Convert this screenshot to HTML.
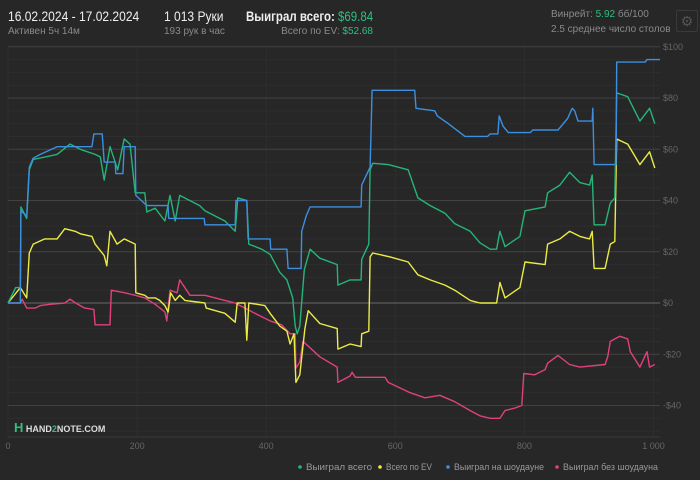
<!DOCTYPE html>
<html><head><meta charset="utf-8">
<style>
body{margin:0;background:#272728;width:700px;height:480px;overflow:hidden;font-family:"Liberation Sans",sans-serif;}
.t{position:absolute;white-space:nowrap;}
.n{transform:scaleX(0.86);transform-origin:left top;}
</style></head>
<body>
<div class="t n" style="left:8px;top:8px;font-size:14px;color:#eee;">16.02.2024 - 17.02.2024</div>
<div class="t" style="left:8px;top:26px;font-size:10px;color:#8a8a8a;">Активен 5ч 14м</div>
<div class="t n" style="left:164px;top:8px;font-size:14px;color:#eee;">1 013 Руки</div>
<div class="t" style="left:164px;top:26px;font-size:10px;color:#8a8a8a;">193 рук в час</div>
<div class="t n" style="left:246px;top:8px;font-size:14px;color:#eee;font-weight:bold;transform:scaleX(0.82);">Выиграл всего: <span style="color:#2fbf80;font-weight:normal">$69.84</span></div>
<div class="t" style="right:327px;top:26px;font-size:10px;color:#8a8a8a;">Всего по EV: <span style="color:#2fbf80">$52.68</span></div>
<div class="t" style="left:551px;top:9px;font-size:10px;color:#8a8a8a;">Винрейт: <span style="color:#2fbf80">5.92</span> бб/100</div>
<div class="t" style="left:551px;top:24px;font-size:10px;color:#8a8a8a;">2.5 среднее число столов</div>
<div class="t" style="left:676px;top:10px;width:20px;height:20px;border:1px solid #3a3a3a;border-radius:2px;color:#555;font-size:14px;text-align:center;line-height:20px;">⚙</div>
<svg id="c" width="700" height="480" style="position:absolute;left:0;top:0"></svg>
<div class="t" style="left:14px;top:420px;font-size:9px;color:#ddd;font-weight:bold;"><span style="color:#2fbf80;font-size:13px;">H</span> HAND<span style="color:#2fbf80">2</span>NOTE.COM</div>
<script>
const xTicks=[0,200,400,600,800,1000];
const xTickLabels=["0","200","400","600","800","1 000"];
const yTicks=[100,80,60,40,20,0,-20,-40];
const yTickLabels=["$100","$80","$60","$40","$20","$0","-$20","-$40"];
const seriesNames=["Выиграл всего","Всего по EV","Выиграл на шоудауне","Выиграл без шоудауна"];
const seriesColors=["#25b579","#ecec45","#3d8fe0","#e0417c"];
const greenH=[0,12,19,20,29,33,39,76,96,112,135,143,149,158,170,180,189,197,212,215,228,243,251,259,266,297,305,336,352,356,370,373,393,406,421,432,441,445,448,452,459,468,483,510,511,530,547,548,559,561,565,589,620,635,654,677,692,716,731,747,757,762,770,793,801,832,836,855,870,886,901,905,908,925,933,940,943,960,979,994,1002];
const greenV=[0,6,6,37.5,33,52,56,58,62,60,58,57,48,61,52,64,62,43,43,35.5,37,32,42,32,42,38,36,32,28,41,40,23,21,19,12,9,2,-9,-12,-9,13,21,17.5,15,7,9,9,17,23,52,54.5,54,52,41,38,35,31,28,23.5,21,21,28,22,26,36,37.5,43,46,51,47,46,50,30.5,30.5,39,41,82,80.5,71,76,70];
const yellowH=[0,19,29,33,39,57,76,88,104,112,130,135,149,153,158,169,180,197,198,212,217,228,235,243,248,252,259,266,274,305,307,336,352,355,367,370,373,398,406,421,432,437,443,446,452,460,465,483,510,511,530,547,548,559,561,565,592,620,635,654,677,692,716,731,747,757,762,770,793,801,832,836,855,870,886,901,905,908,925,933,940,943,960,979,994,1002];
const yellowV=[0,6,2,19.5,23,25,25,29,28,27,26,23,18.5,14.5,28,23,25,23,4,3,2,2,1,-1,-3.5,4,1,3,1,0,-2,-4,-7.5,0,0,-14.5,0,-1,-4,-9,-11,-16,-12,-31,-28,-10,-3,-8,-10,-18,-16,-17,-12,-11,18,19.5,18,16,11,9,7,5,1,0,0,0,8,2,6,16,15,23,25,28,26,25,28,13.5,13.5,23,24,64,62,54,59,52.7];
const blueH=[0,19,20,29,33,39,50,76,130,133,146,149,166,167,178,180,197,198,215,248,249,304,305,352,353,370,372,406,407,432,434,454,455,462,468,547,548,561,564,630,632,661,665,682,708,743,747,759,761,767,775,809,813,852,867,874,878,883,905,906,908,942,943,987,990,1010];
const blueV=[0,0,36,34,53,56.5,58,61,61,66,66,55,55,50.5,50.5,61,61,42,38,38,33,33,30.5,30.5,40,40,25,25,21,21,13.5,13.5,28,34,37.5,37.5,46,53,83,83,76,75,73,70,65,65,66,66,73,69,66.5,66.5,67.5,67.5,72,76,75,71,71,76,54,54,94,94,95,95];
const pinkH=[0,19,22,29,42,50,65,88,96,108,119,133,135,158,160,181,197,212,228,243,246,251,262,266,282,305,336,352,367,390,406,424,437,445,446,452,457,468,483,510,511,530,533,538,584,589,623,646,669,692,716,731,747,762,770,785,796,799,816,832,836,852,870,886,925,929,933,948,960,964,979,990,994,1002];
const pinkV=[0,0,1.5,-2,-2,-1,-0.5,0,1.5,-0.5,-2,-2.5,-8.5,-8.5,5,4,3,2,-0.5,-3.5,-7,5,4,9,3,3,1,0,-2,-5,-7,-8.5,-12,-12,-25.5,-23,-15,-17.5,-21,-25,-31,-28.5,-27,-29,-29,-31,-35,-37,-36,-38.5,-42,-44,-45,-45,-42,-41,-40,-27.5,-28,-26,-23.5,-20.5,-24,-25,-24,-21,-15,-13,-14,-19,-25,-19,-25,-24];

const svg=document.getElementById('c');
const NS='http://www.w3.org/2000/svg';
const X0=8,X1=653.5,Y0=303,PY=2.5625;
function xs(h){return X0+(X1-X0)*h/1000;}
function ys(v){return Y0-v*PY;}
function mk(tag,attrs){const e=document.createElementNS(NS,tag);for(const k in attrs)e.setAttribute(k,attrs[k]);svg.appendChild(e);return e;}
for(let v=-50;v<=100;v+=5){
  if(v%20===0) continue;
  const g=mk('line',{x1:8,x2:660,y1:ys(v),y2:ys(v),stroke:'#2e2e2f','stroke-width':1});
  
  
}
xTicks.forEach((t,i)=>{
  const g=mk('line',{x1:xs(t),x2:xs(t),y1:45,y2:437,stroke:'#2e2e2f','stroke-width':1});
  
  
  const l=mk('text',{x:xs(t),y:449,fill:'#666','font-size':9,'text-anchor':'middle','font-family':'Liberation Sans, sans-serif'});
  l.textContent=xTickLabels[i];
  
  
});
yTicks.forEach((t,i)=>{
  const g=mk('line',{x1:8,x2:660,y1:ys(t),y2:ys(t),stroke:t===0?'#6a6a6a':'#424243','stroke-width':1});
  
  
  const l=mk('text',{x:663,y:ys(t)+3,fill:'#666','font-size':9,'font-family':'Liberation Sans, sans-serif'});
  l.textContent=yTickLabels[i];
  
  
});
const axis=mk('line',{x1:8,x2:660,y1:437,y2:437,stroke:'#3a3a3a'});


const series=[[pinkH,pinkV],[yellowH,yellowV],[greenH,greenV],[blueH,blueV]];
const order=[3,1,0,2];
const lnames=['series-pink-line','series-yellow-line','series-green-line','series-blue-line'];
series.forEach((s,i)=>{
  const pts=s[0].map((h,j)=>xs(h).toFixed(1)+','+ys(s[1][j]).toFixed(1)).join(' ');
  const p=mk('polyline',{points:pts,fill:'none',stroke:seriesColors[order[i]],'stroke-width':1.4,'stroke-linejoin':'round'});
  
  
});
const lx=[300,380,448,557];
const lw=[66,46,90,95];
seriesNames.forEach((n,i)=>{
  const c=mk('circle',{cx:lx[i],cy:467,r:1.8,fill:seriesColors[i]});
  
  
  const t=mk('text',{x:lx[i]+6,y:470,fill:'#999','font-size':9.5,'font-family':'Liberation Sans, sans-serif',textLength:lw[i],lengthAdjust:'spacingAndGlyphs'});
  t.textContent=n;
  
  
});
</script>
</body></html>
